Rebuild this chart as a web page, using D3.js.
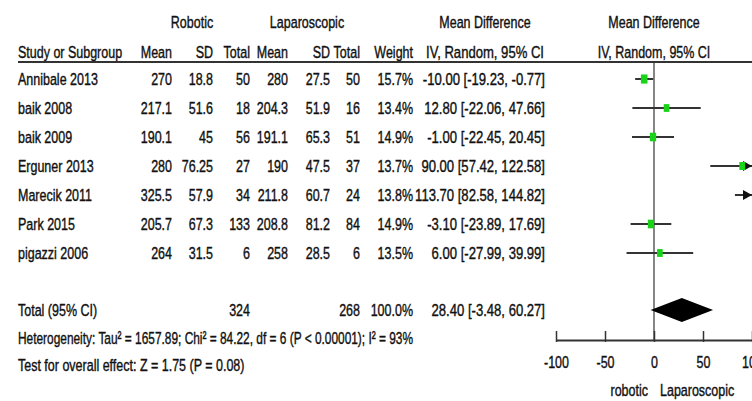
<!DOCTYPE html>
<html><head><meta charset="utf-8">
<script src="https://cdn.jsdelivr.net/npm/d3@7"></script>
<style>
html,body{margin:0;padding:0;background:#fff;}
svg text{font-family:"Liberation Sans",Arial,sans-serif;font-size:17px;fill:#111;stroke:#111;stroke-width:0.4;}
</style></head>
<body><svg id="c" width="752" height="401"></svg>
<script>
const studies = ["Annibale 2013","baik 2008","baik 2009","Erguner 2013","Marecik 2011","Park 2015","pigazzi 2006"];
const robMean = ["270","217.1","190.1","280","325.5","205.7","264"];
const robSD = ["18.8","51.6","45","76.25","57.9","67.3","31.5"];
const robTotal = ["50","18","56","27","34","133","6"];
const lapMean = ["280","204.3","191.1","190","211.8","208.8","258"];
const lapSD = ["27.5","51.9","65.3","47.5","60.7","81.2","28.5"];
const lapTotal = ["50","16","51","37","24","84","6"];
const weights = [15.7,13.4,14.9,13.7,13.8,14.9,13.5];
const md = [-10.00,12.80,-1.00,90.00,113.70,-3.10,6.00];
const ciLow = [-19.23,-22.06,-22.45,57.42,82.58,-23.89,-27.99];
const ciHigh = [-0.77,47.66,20.45,122.58,144.82,17.69,39.99];
const total = {label:"Total (95% CI)", robTotal:"324", lapTotal:"268", weight:"100.0%", md:28.40, lo:-3.48, hi:60.27};
const hetText = "Heterogeneity: Tau\u00b2 = 1657.89; Chi\u00b2 = 84.22, df = 6 (P < 0.00001); I\u00b2 = 93%";
const testText = "Test for overall effect: Z = 1.75 (P = 0.08)";
const axisTicks = [-100,-50,0,50,100];
const favLeft = "robotic", favRight = "Laparoscopic";

const SX = 0.735;
const svg = d3.select("#c");
const x = d3.scaleLinear().domain([-100,100]).range([556,752]);
const y = d3.scalePoint().domain(studies).range([79,253]);
const yTotal = 310, yHet = 338, yTest = 365, yAxis = 340;

function txt(t, xx, yy, anchor, sx){
  return svg.append("text").attr("transform",`translate(${xx},${yy}) scale(${sx||SX},1)`)
    .attr("dy","0.35em").attr("text-anchor",anchor||"start").text(t);
}
const f2 = v => (v<0?"-":"") + Math.abs(v).toFixed(2);
const ciStr = (m,l,h) => f2(m)+" ["+f2(l)+", "+f2(h)+"]";
const SXCI = 0.77;

// headers
txt("Robotic",192,22,"middle");
txt("Laparoscopic",307,22,"middle");
txt("Mean Difference",485,22,"middle");
txt("Mean Difference",654,22,"middle");
const h2 = 52;
txt("Study or Subgroup",18,h2);
[["Mean",172],["SD",213],["Total",250],["Mean",288],["SD",330],["Total",360],["Weight",413]]
  .forEach(d=>txt(d[0],d[1],h2,"end"));
txt("IV, Random, 95% CI",485,h2,"middle",SXCI);
txt("IV, Random, 95% CI",654,h2,"middle");
svg.append("line").attr("x1",18).attr("x2",752).attr("y1",62).attr("y2",62)
  .attr("stroke","#333").attr("stroke-width",2);

// rows
const cols = [[robMean,172],[robSD,213],[robTotal,250],[lapMean,288],[lapSD,330],[lapTotal,360]];
studies.forEach((s,i)=>{
  const yy = y(s);
  txt(s,18,yy);
  cols.forEach(c=>txt(c[0][i],c[1],yy,"end"));
  txt(weights[i].toFixed(1)+"%",413,yy,"end");
  txt(ciStr(md[i],ciLow[i],ciHigh[i]),545,yy,"end",SXCI);
});
txt(total.label,18,yTotal);
txt(total.robTotal,250,yTotal,"end");
txt(total.lapTotal,360,yTotal,"end");
txt(total.weight,413,yTotal,"end");
txt(ciStr(total.md,total.lo,total.hi),545,yTotal,"end",SXCI);
txt(hetText,18,yHet,"start",0.70);
txt(testText,18,yTest);

// zero line
svg.append("line").attr("x1",x(0)).attr("x2",x(0)).attr("y1",63).attr("y2",yAxis)
  .attr("stroke","#444").attr("stroke-width",1.3);

// CI lines and markers
const [dMin,dMax] = x.domain();
studies.forEach((s,i)=>{
  const yy = y(s);
  const lo = Math.max(ciLow[i],dMin), hi = Math.min(ciHigh[i],dMax);
  svg.append("line").attr("x1",x(lo)).attr("x2",x(hi)).attr("y1",yy).attr("y2",yy)
    .attr("stroke","#333").attr("stroke-width",2);
  if(ciHigh[i]>dMax){
    const axx = x(dMax);
    svg.append("path").attr("d",`M${axx},${yy} L${axx-9},${yy-5} L${axx-9},${yy+5} Z`).attr("fill","#111");
  }
  if(md[i]>=dMin && md[i]<=dMax){
    const w = weights[i]*0.42, h = weights[i]*0.58;
    svg.append("rect").attr("x",x(md[i])-w/2).attr("y",yy-h/2).attr("width",w).attr("height",h)
      .attr("fill","#19d319");
  }
});
// diamond
svg.append("path").attr("d",`M${x(total.lo)},${yTotal} L${x(total.md)},${yTotal-12} L${x(total.hi)},${yTotal} L${x(total.md)},${yTotal+12} Z`)
  .attr("fill","#000");

// axis
const ax = svg.append("g").attr("transform",`translate(0,${yAxis})`)
  .call(d3.axisBottom(x).tickValues(axisTicks).tickSize(-9).tickSizeOuter(0).tickPadding(16).tickFormat(d => String(d)));
ax.attr("font-size",null).attr("font-family",null);
ax.select(".domain").attr("stroke","#333").attr("stroke-width",2);
ax.selectAll(".tick line").attr("stroke","#333").attr("stroke-width",1.5).attr("y2",-9).attr("y1",2);
ax.selectAll(".tick text").attr("fill","#111").attr("transform",`scale(${SX},1)`);
txt(favLeft,x(0)-6,390,"end");
txt(favRight,x(0)+6,390,"start");
</script></body></html>
